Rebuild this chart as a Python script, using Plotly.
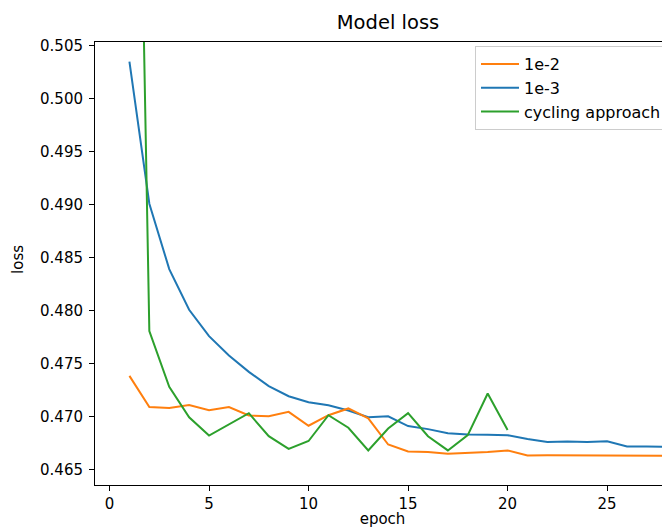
import plotly.graph_objects as go

epochs_1e2 = list(range(1, 29))
loss_1e2 = [0.47387, 0.47093, 0.47083, 0.47112, 0.47064, 0.47093, 0.47013, 0.47006,
            0.47048, 0.46917, 0.47016, 0.47080, 0.46987, 0.46740, 0.46674, 0.46668,
            0.46652, 0.46658, 0.46670, 0.46684, 0.46636, 0.46638, 0.46638, 0.46637,
            0.46636, 0.46635, 0.46635, 0.46634]

epochs_1e3 = list(range(1, 30))
loss_1e3 = [0.50349, 0.49010, 0.48394, 0.48010, 0.47761, 0.47579, 0.47425, 0.47291,
            0.47195, 0.47138, 0.47109, 0.47061, 0.46997, 0.47006, 0.46914, 0.46885,
            0.46847, 0.46834, 0.46831, 0.46828, 0.46792, 0.46764, 0.46767, 0.46764,
            0.46770, 0.46722, 0.46722, 0.46716, 0.46712]

epochs_cyc = list(range(1, 21))
loss_cyc = [0.5791, 0.47810, 0.47284, 0.46997, 0.46824, 0.46930, 0.47035, 0.46818,
            0.46699, 0.46773, 0.47016, 0.46898, 0.46684, 0.46891, 0.47035, 0.46818,
            0.46684, 0.46828, 0.47221, 0.46876]

x_ticks = [0, 5, 10, 15, 20, 25]
y_ticks = [0.465, 0.470, 0.475, 0.480, 0.485, 0.490, 0.495, 0.500, 0.505]

FONT = "DejaVu Sans"
# page body has an 8px margin, so the figure starts at (8, 8) in the window
W, H = 662, 520

fig = go.Figure()
fig.add_trace(go.Scatter(x=epochs_1e3, y=loss_1e3, mode="lines", name="1e-3",
                         line=dict(color="#1f77b4", width=2), legendrank=2, legendgroup="b"))
fig.add_trace(go.Scatter(x=epochs_1e2, y=loss_1e2, mode="lines", name="1e-2",
                         line=dict(color="#ff7f0e", width=2), legendrank=1, legendgroup="a"))
fig.add_trace(go.Scatter(x=epochs_cyc, y=loss_cyc, mode="lines", name="cycling approach",
                         line=dict(color="#2ca02c", width=2), legendrank=3, legendgroup="c"))

fig.update_layout(
    width=W, height=H,
    margin=dict(l=87, r=0, t=34, b=43, pad=0, autoexpand=False),
    paper_bgcolor="white", plot_bgcolor="white",
    font=dict(family=FONT, size=15, color="black"),
    title=dict(text="Model loss", x=(388 - 95) / 575, xref="paper", xanchor="center",
               y=1 - 14 / H, yanchor="middle", font=dict(size=19.5, color="black")),
    showlegend=True,
    legend=dict(x=(475 - 95) / 575, y=(477 - 46) / 435, xanchor="left", yanchor="top",
                bgcolor="rgba(255,255,255,0.8)", bordercolor="#cccccc", borderwidth=1,
                font=dict(size=16, color="black"), tracegroupgap=0, traceorder="grouped",
                itemwidth=38),
    annotations=[dict(text="loss", xref="paper", yref="paper", x=-77 / 575, y=0.508,
                      xanchor="center", yanchor="middle", textangle=-90, showarrow=False,
                      font=dict(size=15, color="black"))],
)
fig.update_xaxes(range=[-0.73, 28.16], tickvals=x_ticks, ticktext=[str(v) for v in x_ticks],
                 showgrid=False, zeroline=False, showline=True, linecolor="black", linewidth=1,
                 mirror=True, ticks="outside", ticklen=5, tickcolor="black", automargin=False,
                 title=dict(text="epoch", standoff=0, font=dict(size=15)))
fig.update_yaxes(range=[0.46358, 0.50535], tickvals=y_ticks,
                 ticktext=[f"{v:.3f}" for v in y_ticks],
                 showgrid=False, zeroline=False, showline=True, linecolor="black", linewidth=1,
                 ticks="outside", ticklen=5, tickcolor="black", automargin=False,
                 ticklabelstandoff=3)

fig.write_html("out.html")
